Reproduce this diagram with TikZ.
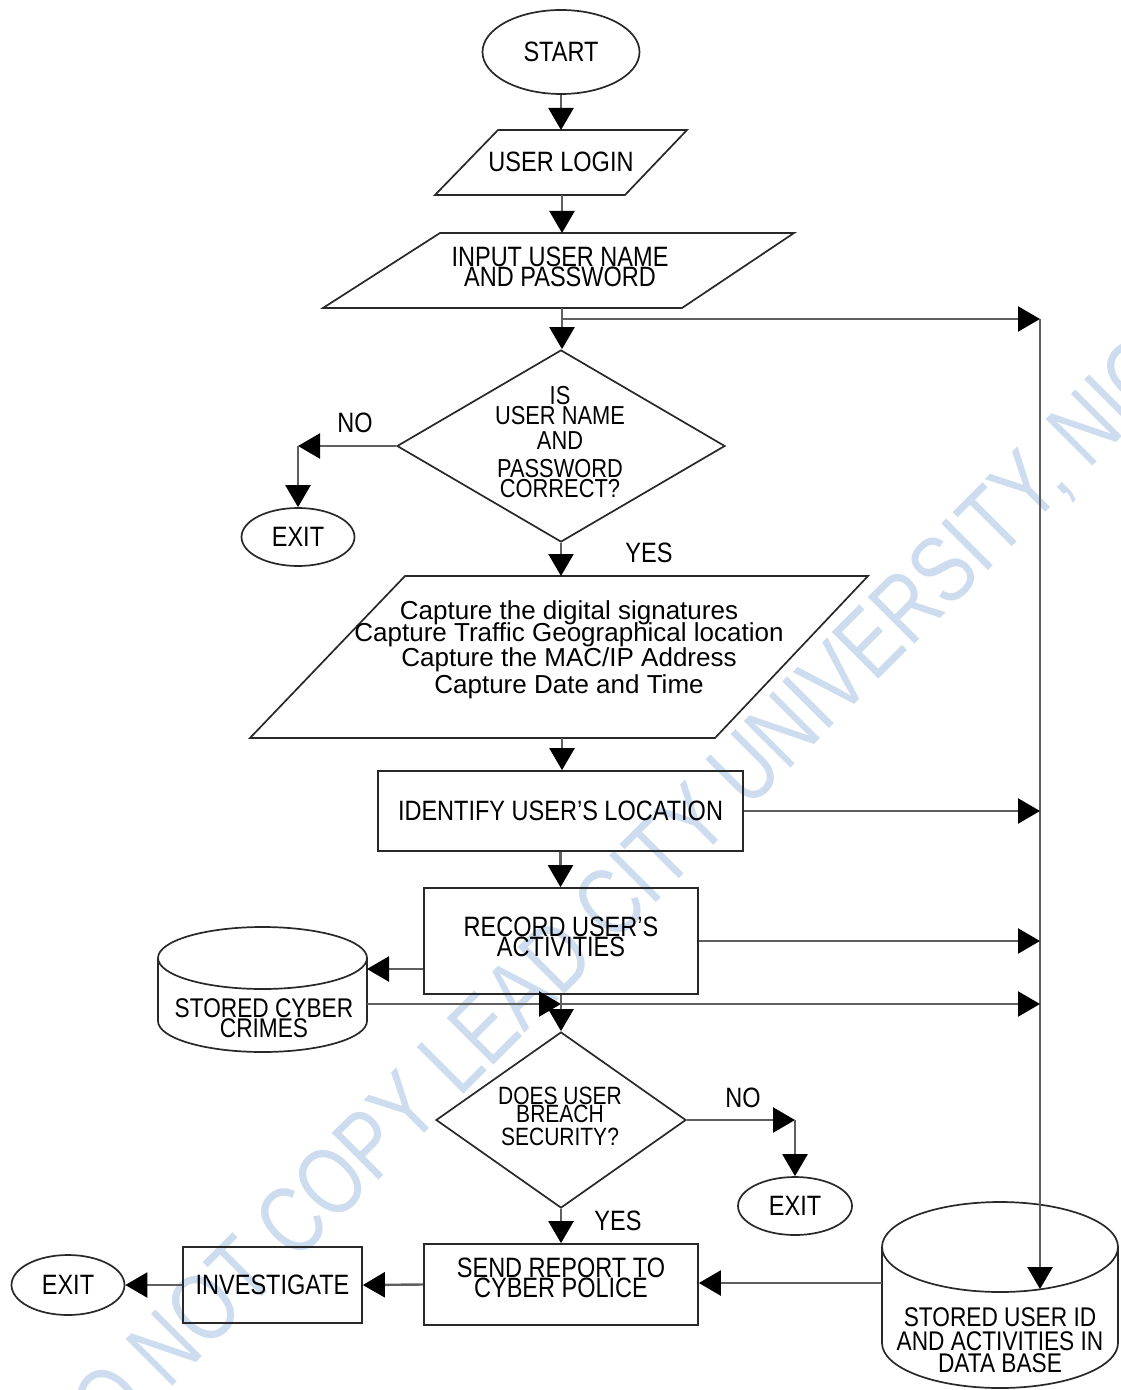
\documentclass[tikz,border=0pt]{standalone}
\usepackage{fontspec}
\setmainfont{Liberation Sans}[FakeStretch=0.84]
\newfontfamily\capfont{Liberation Sans}
\newfontfamily\wmfont{Liberation Sans}[FakeStretch=0.78]
\usetikzlibrary{arrows.meta,shapes.geometric,calc}
\lineskiplimit=-\maxdimen
\definecolor{wmblue}{RGB}{205,220,238}
\definecolor{lncol}{RGB}{95,95,95}
\definecolor{shcol}{RGB}{40,40,40}
\begin{document}
\begin{tikzpicture}[x=0.5pt,y=-0.5pt,
  shp/.style={draw=shcol,line width=0.85pt},
  ln/.style={draw=lncol,line width=1.2pt},
  arr/.style={ln,-{Triangle[length=11pt,width=12.5pt,color=black]}},
  txt/.style={inner sep=0pt,align=center,font=\fontsize{14}{10}\selectfont},
  term/.style={shp,ellipse,inner sep=0pt,font=\fontsize{14}{10}\selectfont},
  boxn/.style={shp,rectangle,inner sep=0pt,align=center,font=\fontsize{14}{10}\selectfont},
  dia/.style={shp,diamond,inner sep=0pt},
]
\useasboundingbox (0,0) rectangle (1120,1390);
% watermark
\begin{scope}
\clip (0,0) rectangle (1120,1390);
\node[rotate=45,anchor=west,inner sep=0pt,text=wmblue,font=\wmfont\fontsize{48}{48}\selectfont] (wm) at (55,1465) {DO NOT COPY LEAD CITY UNIVERSITY, NIGERIA};
\end{scope}

% start and login
\node[term,minimum width=78.5pt,minimum height=42pt] (start) at (561,52) {START};
\draw[shp] (498,130) -- (687,130) -- (625,195) -- (435,195) -- cycle;
\node[txt] (login) at (561,162) {USER LOGIN};
\coordinate (loginN) at (561,130);
\coordinate (loginS) at (562,195);
\draw[shp] (440,233) -- (794,233) -- (682,308) -- (323,308) -- cycle;
\node[txt] (input) at (560,267) {INPUT USER NAME\\AND PASSWORD};
\coordinate (inputN) at (562,233);
\coordinate (inputS) at (562,308);

% decision 1
\node[dia,minimum width=164pt,minimum height=96pt] (d1) at (561,446) {};
\node[txt,font=\fontsize{13}{10}\selectfont] (d1t) at (560,442) {IS\\USER NAME\\[2.5pt]AND\\[4pt]PASSWORD\\CORRECT?};
\node[term,minimum width=56.5pt,minimum height=29pt] (exit1) at (298,537) {EXIT};
\node[txt] (no1) at (355,423) {NO};
\node[txt] (yes1) at (649,553) {YES};

% capture
\draw[shp] (405,576) -- (868,576) -- (715,738) -- (250,738) -- cycle;
\node[txt,font=\capfont\fontsize{13}{11}\selectfont] (capt) at (569,650) {Capture the digital signatures\\Capture Traffic Geographical location\\[1.5pt]Capture the MAC/IP Address\\[2.5pt]Capture Date and Time};
\coordinate (capN) at (562,576);
\coordinate (capS) at (562,738);

% identify / record
\node[boxn,minimum width=182.5pt,minimum height=40pt] (id) at (560.5,811) {IDENTIFY USER’S LOCATION};
\node[boxn,minimum width=137pt,minimum height=53pt] (rec) at (561,941) {};
\node[txt] (rect) at (561,937) {RECORD USER’S\\ACTIVITIES};

% stored cyber crimes cylinder
\draw[shp] (262.5,958) ellipse [x radius=104.5, y radius=31];
\draw[shp] (158,958) -- (158,1021) arc[start angle=180,end angle=0,x radius=104.5,y radius=31] -- (367,958);
\node[txt,font=\fontsize{13.5}{10}\selectfont] (cct) at (264,1018) {STORED CYBER\\CRIMES};
\coordinate (ccR1) at (367,969);
\coordinate (ccR2) at (367,1004);

% decision 2
\node[dia,minimum width=125pt,minimum height=88pt] (d2) at (561,1120) {};
\node[txt,font=\fontsize{12.5}{9}\selectfont] (d2t) at (560,1116) {DOES USER\\BREACH\\[2.5pt]SECURITY?};
\node[term,minimum width=57pt,minimum height=29pt] (exit2) at (795,1206) {EXIT};
\node[txt] (no2) at (743,1098) {NO};
\node[txt] (yes2) at (618,1221) {YES};

% bottom row
\node[boxn,minimum width=137pt,minimum height=40.5pt] (send) at (561,1284.5) {};
\node[txt] (sendt) at (561,1278) {SEND REPORT TO\\CYBER POLICE};
\node[boxn,minimum width=89.5pt,minimum height=38pt] (inv) at (272.5,1285) {INVESTIGATE};
\node[term,minimum width=56.5pt,minimum height=30pt] (exit3) at (68,1285) {EXIT};

% database cylinder
\draw[shp] (1000,1247) ellipse [x radius=118,y radius=45];
\draw[shp] (882,1247) -- (882,1343) arc[start angle=180,end angle=0,x radius=118,y radius=45] -- (1118,1247);
\node[txt,font=\fontsize{13.5}{11}\selectfont] (dbt) at (1000,1340) {STORED USER ID\\[1pt]AND ACTIVITIES IN\\DATA BASE};
\coordinate (dbL) at (882,1283);
\coordinate (dbTop) at (1040,1289);

% connectors
\coordinate (j1) at (562,319);
\coordinate (b1) at (1040,319);
\coordinate (c1) at (298,446);
\coordinate (m1) at (561,1004);
\coordinate (c2) at (795,1120);
\draw[arr] (start.south) -- (loginN);
\draw[arr] (loginS) -- (inputN);
\draw[arr] (inputS) -- (inputS |- d1.north);
\draw[arr] (j1) -- (b1);
\draw[arr] (b1) -- (dbTop);
\draw[arr] (d1.west) -- (c1);
\draw[arr] (c1) -- (exit1.north);
\draw[arr] (d1.south) -- (d1.south |- capN);
\draw[arr] (capS) -- (capS |- id.north);
\draw[arr] (id.east) -- (id.east -| b1);
\draw[arr] (id.south) -- (id.south |- rec.north);
\draw[arr] (rec.east) -- (rec.east -| b1);
\draw[arr] (rec.west |- ccR1) -- (ccR1);
\draw[arr] (ccR2) -- (m1);
\draw[arr] (m1) -- (m1 -| b1);
\draw[arr] (rec.south) -- (d2.north);
\draw[arr] (d2.east) -- (c2);
\draw[arr] (c2) -- (exit2.north);
\draw[arr] (d2.south) -- (send.north);
\draw[arr] (dbL) -- (dbL -| send.east);
\draw[arr] (send.west) -- (inv.east);
\draw[arr] (inv.west) -- (exit3.east);
\end{tikzpicture}
\end{document}
